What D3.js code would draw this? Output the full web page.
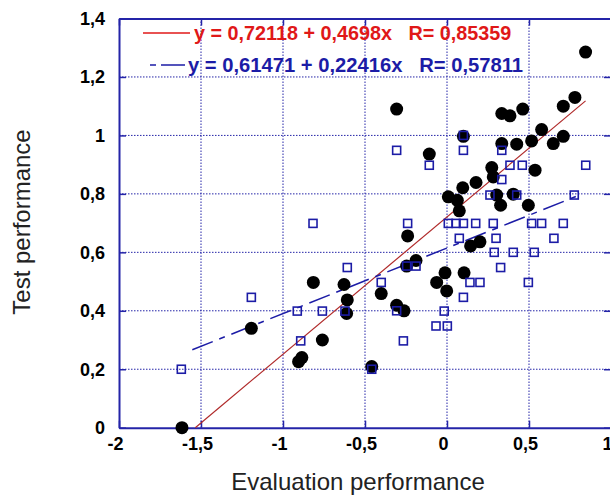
<!DOCTYPE html>
<html>
<head>
<script src="https://d3js.org/d3.v7.min.js"></script>
<style>
  body { margin: 0; background: #fff; }
  text { font-family: "Liberation Sans", Arial, sans-serif; }
</style>
</head>
<body>
<script>
// filled circles (series 1)
var circleEval = [-1.616, -1.193, -0.905, -0.885, -0.815, -0.760, -0.628, -0.608, -0.612, -0.459,
  -0.401, -0.307, -0.262, -0.307, -0.240, -0.246, -0.189, -0.108, -0.063, -0.012,
  -0.002, 0.008, 0.063, 0.075, 0.096, 0.100, 0.104, 0.144, 0.177, 0.201,
  0.273, 0.282, 0.303, 0.327, 0.334, 0.334, 0.384, 0.404, 0.425, 0.462,
  0.496, 0.516, 0.537, 0.577, 0.648, 0.709, 0.709, 0.780, 0.845]
var circleTest = [0.000, 0.340, 0.226, 0.240, 0.497, 0.300, 0.490, 0.437, 0.391, 0.209,
  0.459, 0.419, 0.400, 1.090, 0.656, 0.553, 0.572, 0.936, 0.497, 0.530,
  0.468, 0.790, 0.778, 0.742, 0.821, 0.997, 0.530, 0.622, 0.839, 0.636,
  0.890, 0.858, 0.796, 0.761, 0.972, 1.075, 1.067, 0.799, 0.970, 1.090,
  0.761, 0.981, 0.881, 1.020, 0.972, 1.100, 0.997, 1.130, 1.285]

// open squares (series 2)
var squareEval = [-1.620, -1.193, -0.913, -0.892, -0.817, -0.760, -0.608, -0.622, -0.459, -0.401,
  -0.307, -0.307, -0.266, -0.246, -0.189, -0.240, -0.108, -0.067, -0.017, 0.002,
  0.008, 0.055, 0.075, 0.100, 0.100, 0.100, 0.100, 0.140, 0.175, 0.201,
  0.262, 0.282, 0.288, 0.299, 0.327, 0.334, 0.334, 0.384, 0.404, 0.425,
  0.459, 0.496, 0.516, 0.532, 0.577, 0.652, 0.709, 0.776, 0.846]
var squareTest = [0.200, 0.446, 0.399, 0.297, 0.699, 0.399, 0.548, 0.399, 0.200, 0.497,
  0.400, 0.949, 0.297, 0.553, 0.553, 0.699, 0.898, 0.348, 0.399, 0.348,
  0.699, 0.699, 0.648, 0.699, 0.446, 0.949, 1.000, 0.497, 0.699, 0.497,
  0.796, 0.699, 0.600, 0.648, 0.548, 0.849, 0.949, 0.898, 0.600, 0.796,
  0.898, 0.497, 0.699, 0.600, 0.699, 0.648, 0.699, 0.796, 0.898]

// fitted lines: intercept, slope, x range
var redFit = [0.72118, 0.4698]
var redRange = [-1.535, 0.845]
var blueFit = [0.61471, 0.22416]
var blueRange = [-1.553, 0.80]
var legendText = ["y = 0,72118 + 0,4698x   R= 0,85359", "y = 0,61471 + 0,22416x   R= 0,57811"]

var xTicks = [-2, -1.5, -1, -0.5, 0, 0.5, 1]
var yTicks = [0, 0.2, 0.4, 0.6, 0.8, 1, 1.2, 1.4]

var frame = "#2424a8", navy = "#1c1ca6", red = "#e01818"

var svg = d3.select("body").append("svg").attr("width", 610).attr("height", 496)

var x = d3.scaleLinear().domain([-2, 1]).range([119, 611])
var y = d3.scaleLinear().domain([0, 1.4]).range([427.7, 18.5])
var fmt = d => String(+d.toFixed(1)).replace(".", ",")

// dotted grid
svg.selectAll("line.gx").data(xTicks.slice(1, -1)).enter().append("line")
  .attr("x1", d => x(d)).attr("x2", d => x(d)).attr("y1", y(1.4)).attr("y2", y(0))
  .attr("stroke", frame).attr("stroke-width", 1).attr("stroke-dasharray", "1.5,1.5")
svg.selectAll("line.gy").data(yTicks.slice(1, -1)).enter().append("line")
  .attr("x1", x(-2)).attr("x2", x(1)).attr("y1", d => y(d)).attr("y2", d => y(d))
  .attr("stroke", frame).attr("stroke-width", 1).attr("stroke-dasharray", "1.5,1.5")

// axes with inward ticks
var axB = svg.append("g").attr("transform", `translate(0,${y(0)})`)
  .call(d3.axisBottom(x).tickValues(xTicks).tickFormat(fmt).tickSizeInner(-7).tickSizeOuter(0).tickPadding(10))
var axL = svg.append("g").attr("transform", `translate(${x(-2)},0)`)
  .call(d3.axisLeft(y).tickValues(yTicks).tickFormat(fmt).tickSizeInner(-7).tickSizeOuter(0).tickPadding(14))
var axT = svg.append("g").attr("transform", `translate(0,${y(1.4)})`)
  .call(d3.axisTop(x).tickValues(xTicks).tickFormat("").tickSizeInner(-7).tickSizeOuter(0))
var axR = svg.append("g").attr("transform", `translate(${x(1)},0)`)
  .call(d3.axisRight(y).tickValues(yTicks).tickFormat("").tickSizeInner(-7).tickSizeOuter(0))

;[axB, axL, axT, axR].forEach(g => {
  g.select(".domain").attr("stroke", frame).attr("stroke-width", 2)
  g.selectAll(".tick line").attr("stroke", frame).attr("stroke-width", 1.5)
  g.selectAll(".tick text").attr("fill", "#000").attr("font-size", 18).attr("font-weight", "bold")
    .attr("font-family", "Liberation Sans, Arial, sans-serif")
})
axB.selectAll(".tick text").attr("dx", -4)

// regression lines
svg.append("line")
  .attr("x1", x(redRange[0])).attr("y1", y(redFit[0] + redFit[1] * redRange[0]))
  .attr("x2", x(redRange[1])).attr("y2", y(redFit[0] + redFit[1] * redRange[1]))
  .attr("stroke", "#b02a2a").attr("stroke-width", 1.2)
svg.append("line")
  .attr("x1", x(blueRange[0])).attr("y1", y(blueFit[0] + blueFit[1] * blueRange[0]))
  .attr("x2", x(blueRange[1])).attr("y2", y(blueFit[0] + blueFit[1] * blueRange[1]))
  .attr("stroke", navy).attr("stroke-width", 1.5).attr("stroke-dasharray", "22,7,6,7")

// points
svg.selectAll("circle.pt").data(circleEval).enter().append("circle")
  .attr("cx", d => x(d)).attr("cy", (d, i) => y(circleTest[i])).attr("r", 6.5).attr("fill", "#000")
svg.selectAll("rect.pt").data(squareEval).enter().append("rect")
  .attr("x", d => x(d) - 4).attr("y", (d, i) => y(squareTest[i]) - 4)
  .attr("width", 8).attr("height", 8).attr("fill", "none").attr("stroke", navy).attr("stroke-width", 1.6)

// legend
svg.append("line").attr("x1", 143).attr("x2", 190).attr("y1", 33).attr("y2", 33)
  .attr("stroke", red).attr("stroke-width", 1.5)
svg.append("text").attr("x", 194).attr("y", 40).attr("fill", red).style("white-space", "pre")
  .attr("font-size", 19.8).attr("font-weight", "bold").text(legendText[0])
svg.append("line").attr("x1", 150).attr("x2", 185).attr("y1", 65).attr("y2", 65)
  .attr("stroke", navy).attr("stroke-width", 1.5).attr("stroke-dasharray", "6,5,24,5")
svg.append("text").attr("x", 188).attr("y", 72).attr("fill", navy).style("white-space", "pre")
  .attr("font-size", 20.2).attr("font-weight", "bold").text(legendText[1])

// axis titles
svg.append("text").attr("x", 358).attr("y", 490).attr("text-anchor", "middle")
  .attr("font-size", 24).attr("fill", "#222").text("Evaluation performance")
svg.append("text").attr("transform", "translate(30,222) rotate(-90)").attr("text-anchor", "middle")
  .attr("font-size", 24).attr("fill", "#222").text("Test performance")
</script>
</body>
</html>
